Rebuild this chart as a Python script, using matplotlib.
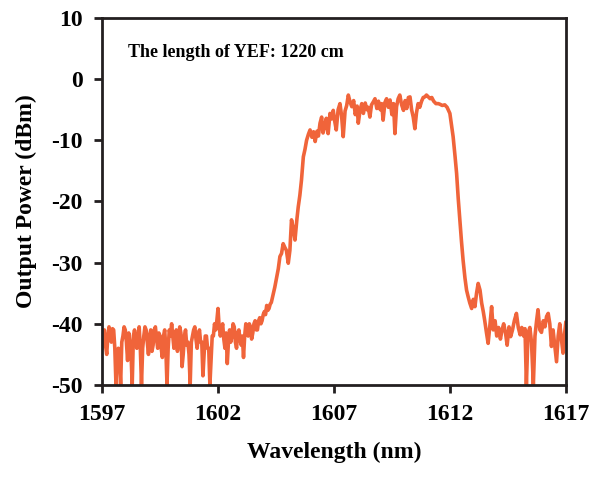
import matplotlib
matplotlib.use("Agg")
import matplotlib.pyplot as plt

# Baseline (left side), 0.05 nm steps
base_db = [-44, -42, -41, -43.5, -45, -42, -40.5, -42.5, -43, -40.8,
           -41, -44, -50, -45, -44, -46, -50, -43, -42, -40.5,
           -41, -43, -46, -41.5, -43, -45, -50, -42, -41, -42.5,
           -44, -42, -40.5, -44, -50, -44, -42, -40.5, -41, -43,
           -45, -42, -41, -44.5, -43.5, -41, -40.5, -42.5, -44, -41.5,
           -42, -44, -45.5, -42, -41, -44, -50, -44, -41, -42,
           -40, -42, -44, -42, -41, -44.5, -43, -40.5, -41.5, -47,
           -45, -42, -41, -43.5, -43, -45, -50, -43, -42, -41,
           -40.5, -42.5, -44, -42, -41, -43, -43, -48.5, -45, -42,
           -42, -44, -44, -50, -46, -42, -42, -40, -41, -39.5,
           -37.5, -40.5, -42, -41, -40, -42.5, -44, -41.5, -46.5, -43,
           -41, -43, -42, -40, -40.5, -43, -44, -41.5, -41, -42.5,
           -43.5, -42, -45.5, -42, -40, -41.5, -42, -40, -40.5, -42.5,
           -41.5, -40, -39.5, -41, -41, -39.5, -39, -40, -39.5, -38.5,
           -38, -38.5, -37, -37.8, -37.5, -36.8]
base_wl = [round(1597.0 + 0.05 * i, 2) for i in range(len(base_db))]

# Rising edge, flat top, falling edge
mid_wl = [1604.3, 1604.45, 1604.6, 1604.67, 1604.74, 1604.81, 1604.88, 1604.95, 1605.03,
          1605.1, 1605.17, 1605.25, 1605.32, 1605.4, 1605.46, 1605.53, 1605.6, 1605.68,
          1605.75, 1605.82, 1605.9, 1605.97, 1606.05, 1606.12, 1606.19, 1606.27, 1606.33,
          1606.4, 1606.47, 1606.53, 1606.6, 1606.67, 1606.75, 1606.83, 1606.9, 1606.97,
          1607.03, 1607.1, 1607.18, 1607.26, 1607.33, 1607.4, 1607.48, 1607.55, 1607.62,
          1607.7, 1607.77, 1607.85, 1607.92, 1608.0, 1608.05, 1608.13, 1608.2, 1608.27,
          1608.35, 1608.42, 1608.48, 1608.55, 1608.62, 1608.7, 1608.77, 1608.85, 1608.92,
          1609.0, 1609.06, 1609.12, 1609.2, 1609.27, 1609.35, 1609.42, 1609.5, 1609.57,
          1609.63, 1609.7, 1609.77, 1609.84, 1609.92, 1610.0, 1610.07, 1610.14, 1610.21,
          1610.28, 1610.35, 1610.42, 1610.49, 1610.56, 1610.63, 1610.7, 1610.78, 1610.85,
          1610.92, 1610.99, 1611.07, 1611.15, 1611.22, 1611.3, 1611.4, 1611.5, 1611.57,
          1611.67, 1611.78, 1611.88, 1612.0, 1612.07, 1612.14, 1612.22, 1612.29, 1612.36,
          1612.43, 1612.5, 1612.57, 1612.65, 1612.72, 1612.79]
mid_db = [-36.5, -34, -31, -29, -28.5, -26.9, -27.5, -28, -30.1,
          -28, -23.0, -24.5, -26.3, -23, -20.9, -19, -16.5, -12.7,
          -11.5, -10.0, -9, -8.3, -9.5, -8.6, -10.2, -8.5, -9.3,
          -7.2, -6.2, -8.8, -7.8, -6.4, -8.9, -5.6, -6.5, -5.1,
          -6.8, -8.3, -5.0, -4.0, -6.0, -9.4, -5.2, -4.3, -2.6,
          -3.8, -4.5, -3.5, -5.8, -4.4, -7.2, -5.0, -4.0, -5.6,
          -3.9, -5.0, -4.6, -6.2, -4.2, -3.7, -3.2, -4.8, -3.6,
          -5.0, -4.0, -6.7, -3.8, -3.2, -4.6, -3.4, -5.8, -4.0,
          -8.9, -4.5, -3.2, -2.6, -4.2, -5.1, -3.5, -4.8, -3.0,
          -2.9, -5.0, -6.2, -8.1, -5.5, -4.0, -4.6, -3.6, -3.0,
          -2.9, -2.6, -2.9, -3.2, -3.0, -3.6, -4.0, -4.0, -4.1,
          -4.3, -4.2, -4.6, -5.6, -7.5, -9.4, -12.5, -15.4, -19.5,
          -23.0, -26.5, -29.6, -32.5, -34.5, -35.6]

# Tail (right side)
tail_wl = [1612.86, 1612.94, 1613.01, 1613.08, 1613.15, 1613.22, 1613.3, 1613.37, 1613.44,
           1613.5, 1613.58, 1613.65, 1613.72, 1613.8, 1613.87, 1613.95, 1614.02, 1614.1,
           1614.18, 1614.25, 1614.32, 1614.4, 1614.47, 1614.55, 1614.62, 1614.7, 1614.78,
           1614.87, 1614.95, 1615.03, 1615.1, 1615.18, 1615.24, 1615.3, 1615.37, 1615.45,
           1615.52, 1615.6, 1615.67, 1615.74, 1615.8, 1615.88, 1615.95, 1616.03, 1616.1,
           1616.17, 1616.24, 1616.31, 1616.38, 1616.45, 1616.52, 1616.6, 1616.67, 1616.74,
           1616.81, 1616.88, 1616.95, 1617.0]
tail_db = [-36.6, -37.5, -36.0, -37.2, -35.0, -33.4, -34.5, -36.6, -38.0,
           -39.4, -41.5, -43.2, -40.5, -37.2, -41.0, -39.5, -42.0, -40.6,
           -42.5, -41.0, -40.0, -41.5, -43.5, -40.5, -42.1, -41.0, -39.5,
           -38.3, -40.6, -41.8, -40.6, -42.0, -40.8, -50, -41.5, -40.6,
           -43.0, -50, -42.0, -39.5, -37.7, -41.0, -41.4, -39.5, -40.5,
           -38.8, -38.3, -40.0, -43.7, -41.0, -43.5, -46.2, -42.0, -40.0,
           -42.5, -44.8, -41.5, -39.8]

wavelength = base_wl + mid_wl + tail_wl
power = base_db + mid_db + tail_db

xticks = [1597, 1602, 1607, 1612, 1617]
yticks = [-50, -40, -30, -20, -10, 0, 10]

plt.rcParams['font.family'] = ['Liberation Serif', 'DejaVu Serif']
plt.rcParams['font.weight'] = 'bold'
plt.rcParams['axes.unicode_minus'] = False

fig = plt.figure(figsize=(5.9, 4.8), dpi=100)
ax = fig.add_axes([0.173, 0.198, 0.786, 0.7645])
ax.plot(wavelength, power, color='#F0643A', lw=2.6, solid_joinstyle='round')
ax.set_xlim(1597, 1617)
ax.set_ylim(-50, 10)
ax.set_xticks(xticks)
ax.set_yticks(yticks)
ax.tick_params(axis='both', direction='out', length=6, width=2, labelsize=17, pad=8, color='#231f20')
for lab in ax.get_xticklabels() + ax.get_yticklabels():
    lab.set_fontweight('bold')
for s in ax.spines.values():
    s.set_linewidth(2)
    s.set_color('#231f20')
ax.set_xlabel('Wavelength (nm)', fontsize=17, fontweight='bold', labelpad=12)
ax.set_ylabel('Output Power (dBm)', fontsize=17, fontweight='bold', labelpad=10)
ax.text(0.055, 0.895, 'The length of YEF: 1220 cm', transform=ax.transAxes,
        fontsize=13, fontweight='bold')
fig.savefig('out.png', dpi=100)
